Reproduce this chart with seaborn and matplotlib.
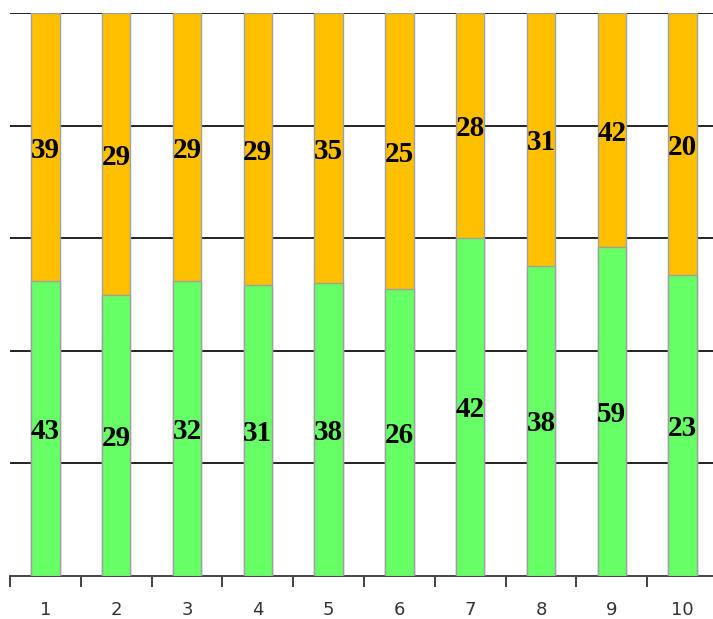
import matplotlib.pyplot as plt
import seaborn as sns
import pandas as pd
import numpy as np

categories = ["1", "2", "3", "4", "5", "6", "7", "8", "9", "10"]
green_vals = [43, 29, 32, 31, 38, 26, 42, 38, 59, 23]
orange_vals = [39, 29, 29, 29, 35, 25, 28, 31, 42, 20]

GREEN = "#66FF66"
ORANGE = "#FFC000"

totals = np.array(green_vals) + np.array(orange_vals)
df = pd.DataFrame({
    "cat": categories,
    "green": np.array(green_vals) / totals * 100,
    "total": np.full(len(categories), 100.0),
})

sns.set_theme(style="white")
fig = plt.figure(figsize=(7.13, 6.19), dpi=100)
ax = fig.add_axes([10 / 713, 43 / 619, 708 / 713, 563 / 619])

# full bar (orange) then green part on top of it
sns.barplot(data=df, x="cat", y="total", color=ORANGE, width=0.4,
            edgecolor="#A0A0A0", linewidth=1, saturation=1, ax=ax, zorder=3)
sns.barplot(data=df, x="cat", y="green", color=GREEN, width=0.4,
            edgecolor="#A0A0A0", linewidth=1, saturation=1, ax=ax, zorder=3)

ax.set_ylim(0, 100)
ax.set_xlim(-0.5, 9.5)
ax.set_yticks([20, 40, 60, 80, 100])
ax.set_yticklabels([])
ax.tick_params(axis="y", length=0)
ax.grid(axis="y", color="#222222", linewidth=1.4, zorder=1)
ax.set_axisbelow(True)

for s in ["left", "right", "top"]:
    ax.spines[s].set_visible(False)
ax.spines["bottom"].set_color("#444444")
ax.spines["bottom"].set_linewidth(1.4)

ax.set_xticks(np.arange(len(categories)))
ax.set_xticklabels(categories, fontsize=13, color="#333333")
ax.tick_params(axis="x", which="major", length=0, pad=18)
ax.set_xticks(np.arange(-0.5, len(categories), 1.0), minor=True)
ax.tick_params(axis="x", which="minor", length=8, width=1.3, color="#333333",
               direction="out", bottom=True)
ax.set_xlabel("")
ax.set_ylabel("")

for i in range(len(categories)):
    g = df["green"].iloc[i]
    ax.text(i, g / 2 - 0.5, str(green_vals[i]), ha="center", va="center",
            fontsize=21, fontweight="bold", family="Liberation Serif",
            color="black", zorder=5)
    ax.text(i, g + (100 - g) / 2 - 0.6, str(orange_vals[i]), ha="center", va="center",
            fontsize=21, fontweight="bold", family="Liberation Serif",
            color="black", zorder=5)

fig.savefig("out.png", dpi=100)
